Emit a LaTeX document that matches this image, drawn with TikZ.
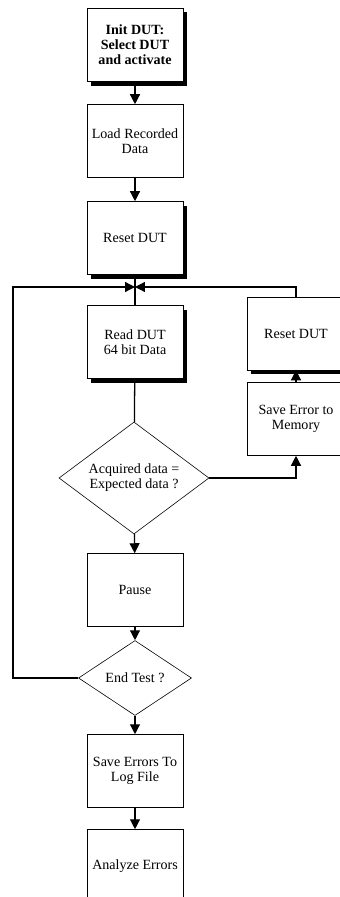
\documentclass[tikz,border=0pt]{standalone}
\usepackage{fontspec}
\setmainfont{Liberation Serif}
\usetikzlibrary{shapes.geometric, shadows, arrows.meta}

\begin{document}
\begin{tikzpicture}[x=0.03cm, y=-0.03cm, line width=0.5pt,
  >={Triangle[length=8.5pt, width=8.5pt]},
  box/.style={draw, fill=white, minimum width=2.88cm, minimum height=2.19cm,
    align=center, inner sep=2pt, font=\fontsize{12}{12.8}\selectfont},
  heavy/.style={drop shadow={fill=black, opacity=1,
    shadow xshift=0.12cm, shadow yshift=-0.12cm}},
  decision/.style={draw, diamond, fill=white, inner sep=0pt, align=center,
    font=\fontsize{12}{12.8}\selectfont},
  link/.style={line width=1.1pt},
  flow/.style={->, line width=1.1pt}]
  \useasboundingbox (0,0) rectangle (340,897);
  \clip (0,0) rectangle (340,897);

  % 가운데 줄
  \node[box, heavy, font=\fontsize{12}{12.8}\selectfont\bfseries] (init) at (135,45)
    {Init DUT:\\Select DUT\\and activate};
  \node[box] (load) at (135,141) {Load Recorded\\Data};
  \node[box, heavy] (reset) at (135,238) {Reset DUT};
  \coordinate (join) at (135,287);
  \node[box, heavy] (read) at (135,342) {Read DUT\\64 bit Data};
  \node[decision, aspect=1.34, minimum width=4.5cm, minimum height=3.36cm]
    (match) at (134,478) {Acquired data =\\Expected data ?};
  \node[box] (pause) at (135,590) {Pause};
  \node[decision, aspect=1.5, minimum width=3.39cm, minimum height=2.25cm]
    (endtest) at (135,678) {End Test ?};
  \coordinate (loop) at (13,678);
  \node[box] (savelog) at (135,771) {Save Errors To\\Log File};
  \node[box] (analyze) at (135,866) {Analyze Errors};

  % 오른쪽 줄
  \node[box, heavy, minimum width=2.94cm] (reset2) at (296,333.5) {Reset DUT};
  \node[box, minimum width=2.94cm] (saveerr) at (296,419) {Save Error to\\Memory};

  % 화살표
  \draw[flow] (init) -- (load);
  \draw[flow] (load) -- (reset);
  \draw[link] (reset) -- (read);
  \draw[link] (read) -- (match);
  \draw[flow] (match) -- (pause);
  \draw[flow] (pause) -- (endtest);
  \draw[flow] (endtest) -- (savelog);
  \draw[flow] (savelog) -- (analyze);
  \draw[flow] (match.east) -| (saveerr.south);
  \draw[flow] (saveerr) -- (reset2);
  \draw[flow] (reset2.north) |- (join);
  \draw[flow] (endtest.west) -- (loop) |- (join);
\end{tikzpicture}
\end{document}
